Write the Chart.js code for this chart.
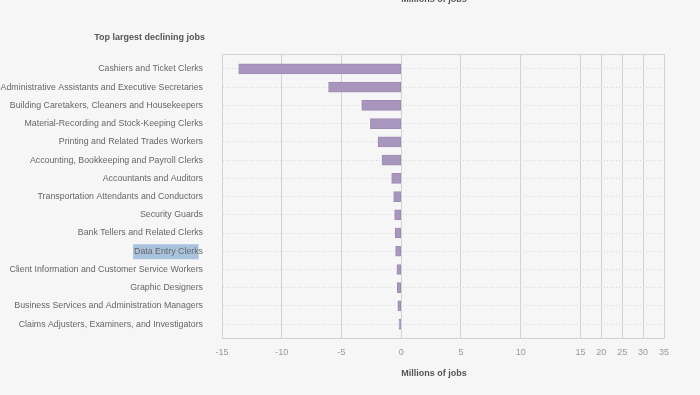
<!DOCTYPE html>
<html>
<head>
<meta charset="utf-8">
<script src="https://cdn.jsdelivr.net/npm/chart.js@4.4.1/dist/chart.umd.min.js"></script>
<style>
  html, body { margin: 0; padding: 0; background: #f6f6f6; }
  #wrap { width: 700px; height: 395px; }
</style>
</head>
<body>
<div id="wrap"><canvas id="jobs"></canvas></div>
<script>
const jobLabels = [
    "Cashiers and Ticket Clerks",
    "Administrative Assistants and Executive Secretaries",
    "Building Caretakers, Cleaners and Housekeepers",
    "Material-Recording and Stock-Keeping Clerks",
    "Printing and Related Trades Workers",
    "Accounting, Bookkeeping and Payroll Clerks",
    "Accountants and Auditors",
    "Transportation Attendants and Conductors",
    "Security Guards",
    "Bank Tellers and Related Clerks",
    "Data Entry Clerks",
    "Client Information and Customer Service Workers",
    "Graphic Designers",
    "Business Services and Administration Managers",
    "Claims Adjusters, Examiners, and Investigators"
];
const jobChange = [-13.6, -6.08, -3.3, -2.58, -1.94, -1.61, -0.8, -0.63, -0.55, -0.5, -0.47, -0.36, -0.33, -0.28, -0.19];
const xTicks = [-15, -10, -5, 0, 5, 10, 15, 20, 25, 30, 35];

// x axis is squeezed above 15
const breakAt = 15;
const breakFrac = 0.811;

const FONT = "'Liberation Sans', Arial, sans-serif";
const LABEL_SIZE = 8.8;

class BrokenScale extends Chart.LinearScale {
    getPixelForValue(value) {
        let d;
        if (value <= breakAt) {
            d = (value - this.min) / (breakAt - this.min) * breakFrac;
        } else {
            d = breakFrac + (value - breakAt) / (this.max - breakAt) * (1 - breakFrac);
        }
        return this.getPixelForDecimal(d);
    }
    getValueForPixel(pixel) {
        const d = this.getDecimalForPixel(pixel);
        if (d <= breakFrac) {
            return this.min + d / breakFrac * (breakAt - this.min);
        }
        return breakAt + (d - breakFrac) / (1 - breakFrac) * (this.max - breakAt);
    }
}
BrokenScale.id = 'broken';
BrokenScale.defaults = Chart.LinearScale.defaults;
Chart.register(BrokenScale);

const textPlugin = {
    id: 'texts',
    beforeDraw(chart) {
        const ctx = chart.ctx;
        const y = chart.scales.y;
        const right = y.right - y.options.ticks.padding;
        // selection highlight seen on "Data Entry Clerks"
        const idx = jobLabels.indexOf("Data Entry Clerks");
        ctx.save();
        ctx.font = LABEL_SIZE + "px " + FONT;
        const full = ctx.measureText("Data Entry Clerks").width;
        const part = ctx.measureText("Data Entry Clerk").width;
        const py = y.getPixelForValue(idx);
        ctx.fillStyle = "#a9c3df";
        ctx.fillRect(right - full - 1, py - 7, part + 1, 15);
        ctx.restore();
    },
    afterDraw(chart) {
        const ctx = chart.ctx;
        const a = chart.chartArea;
        const y = chart.scales.y;
        ctx.save();
        ctx.strokeStyle = "#d2d2d2";
        ctx.lineWidth = 1;
        ctx.beginPath();
        ctx.moveTo(a.left, a.top + 0.5);
        ctx.lineTo(a.right, a.top + 0.5);
        ctx.stroke();

        ctx.fillStyle = "#555";
        ctx.font = "bold 9px " + FONT;
        ctx.textBaseline = "middle";
        ctx.textAlign = "right";
        ctx.fillText("Top largest declining jobs", y.right - y.options.ticks.padding + 2, 38);
        ctx.textAlign = "center";
        ctx.fillText("Millions of jobs", 434, 374);
        ctx.fillText("Millions of jobs", 434, 0);
        ctx.restore();
    }
};

new Chart(document.getElementById('jobs'), {
    type: 'bar',
    data: {
        datasets: [{
            label: 'Change',
            data: jobChange.map((v, i) => ({ x: v, y: i })),
            backgroundColor: "#a996be",
            borderColor: "#9e8bb4",
            borderWidth: 1,
            borderSkipped: false,
            barThickness: 10
        }]
    },
    options: {
        indexAxis: 'y',
        responsive: true,
        maintainAspectRatio: false,
        animation: false,
        layout: { padding: { top: 54, right: 36, bottom: 28, left: 0 } },
        plugins: {
            legend: { display: false },
            tooltip: { enabled: false },
            title: { display: false }
        },
        scales: {
            x: {
                type: 'broken',
                min: -15,
                max: 35,
                afterBuildTicks: (s) => { s.ticks = xTicks.map(v => ({ value: v })); },
                grid: { color: "#d2d2d2", drawTicks: false },
                border: { color: "#d2d2d2" },
                ticks: {
                    color: "#999",
                    font: { family: FONT, size: 9 },
                    padding: 9,
                    maxRotation: 0,
                    autoSkip: false
                }
            },
            y: {
                type: 'linear',
                reverse: true,
                offset: false,
                min: -0.82,
                max: 14.77,
                afterBuildTicks: (s) => { s.ticks = jobLabels.map((_, i) => ({ value: i })); },
                afterFit: (s) => { s.width = 222; },
                grid: { color: "#d8d8d8", drawTicks: false, offset: false },
                border: { color: "#d2d2d2", dash: [1, 2] },
                ticks: {
                    color: "#666",
                    font: { family: FONT, size: LABEL_SIZE },
                    padding: 19,
                    autoSkip: false,
                    callback: (v) => jobLabels[v]
                }
            }
        }
    },
    plugins: [textPlugin]
});
</script>
</body>
</html>
